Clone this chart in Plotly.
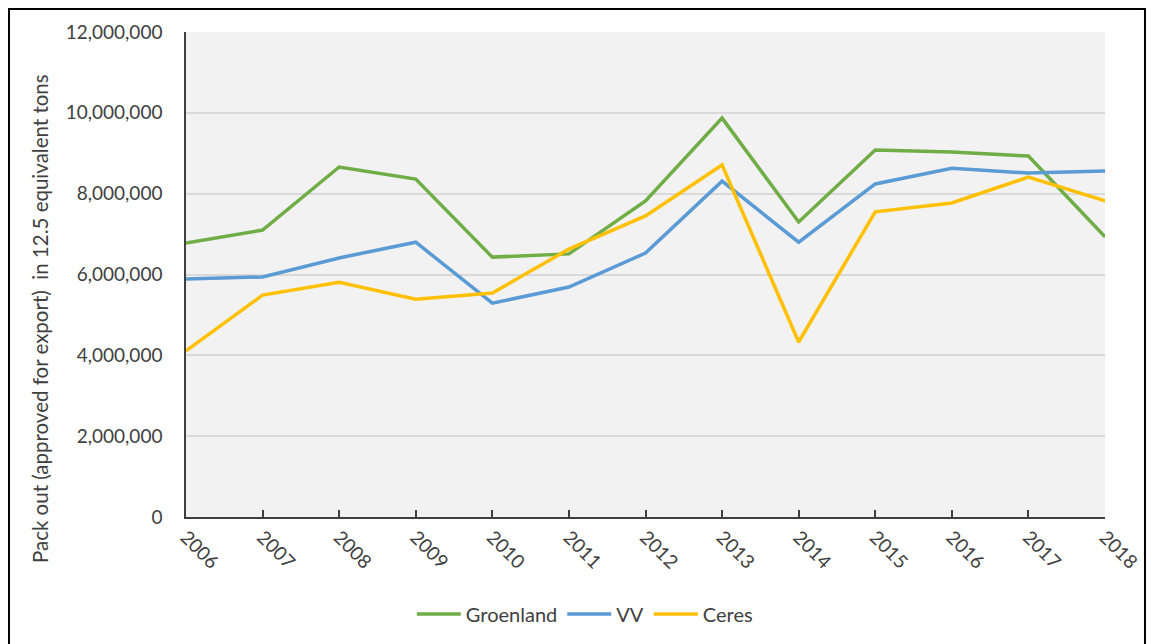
import plotly.graph_objects as go

years = [2006, 2007, 2008, 2009, 2010, 2011, 2012, 2013, 2014, 2015, 2016, 2017, 2018]
groenland = [6780000, 7100000, 8660000, 8360000, 6430000, 6510000, 7820000, 9870000, 7300000, 9080000, 9030000, 8930000, 6930000]
vv = [5890000, 5940000, 6410000, 6800000, 5290000, 5690000, 6530000, 8310000, 6800000, 8240000, 8630000, 8510000, 8560000]
ceres = [4110000, 5490000, 5810000, 5390000, 5540000, 6630000, 7450000, 8710000, 4330000, 7550000, 7770000, 8410000, 7820000]
y_ticks = [0, 2000000, 4000000, 6000000, 8000000, 10000000, 12000000]

FONT = "Lato"
fig = go.Figure()
for name, vals, col in [("Groenland", groenland, "#70ad47"), ("VV", vv, "#5b9bd5"), ("Ceres", ceres, "#ffc000")]:
    fig.add_trace(go.Scatter(x=years, y=vals, name=name, mode="lines",
                             line=dict(color=col, width=3.5)))

fig.update_layout(
    width=1154, height=644,
    margin=dict(l=178, r=57, t=24, b=135),
    paper_bgcolor="white", plot_bgcolor="#f2f2f2",
    font=dict(family=FONT, size=20, color="#404040"),
    showlegend=True,
    legend=dict(orientation="h", x=0.434, xanchor="center", y=-0.2, yanchor="middle",
                font=dict(size=20, color="#404040"), itemwidth=44),
    xaxis=dict(range=[2006, 2018], tickvals=years, ticktext=[str(y) for y in years],
               tickangle=45, showgrid=False, zeroline=False, automargin=False,
               showline=True, linecolor="#404040", linewidth=1.5,
               ticks="inside", ticklen=7, tickcolor="#404040", tickwidth=1.5,
               tickfont=dict(size=19)),
    yaxis=dict(range=[0, 12000000], tickvals=y_ticks,
               ticktext=[f"{v:,}" for v in y_ticks], automargin=False,
               showgrid=True, gridcolor="#d9d9d9", gridwidth=1.5, zeroline=False,
               showline=True, linecolor="#404040", linewidth=1.5, ticks="",
               ticklabelstandoff=18, tickfont=dict(size=19)),
    annotations=[dict(text="Pack out (approved for export)  in 12.5 equivalent tons",
                      xref="paper", yref="paper", x=-0.159, y=0.41,
                      xanchor="center", yanchor="middle", textangle=-90,
                      showarrow=False, font=dict(size=20.5, color="#404040"))],
    shapes=[dict(type="rect", xref="paper", yref="paper",
                 x0=-0.1926, x1=1.0435, y0=-0.30, y1=1.0474,
                 line=dict(color="black", width=2), fillcolor="rgba(0,0,0,0)", layer="below")],
)

fig.write_html("out.html")
